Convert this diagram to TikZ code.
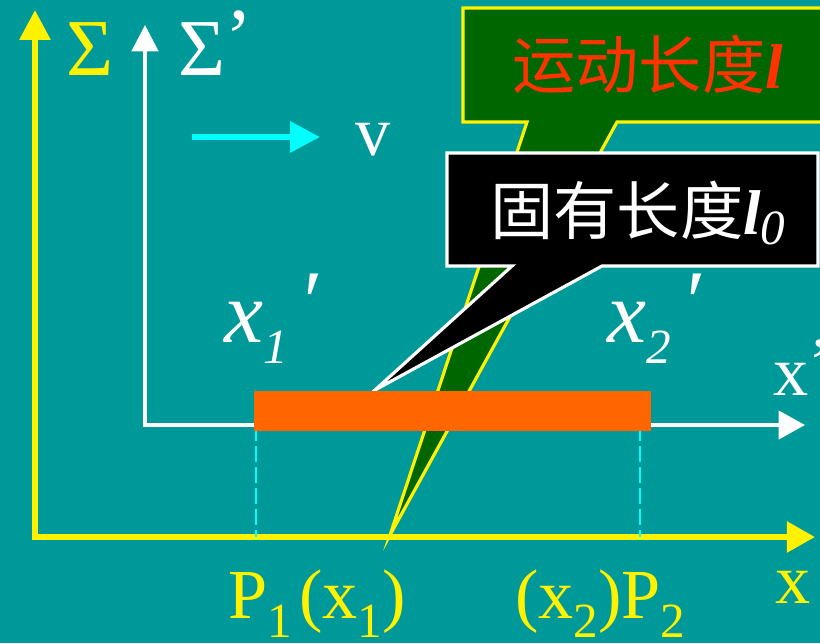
\documentclass[tikz,border=0pt]{standalone}
\usepackage{fontspec}
\setmainfont{Liberation Serif}
\newfontfamily\cjk{Noto Sans CJK SC}
\usepackage{tikz}
\usetikzlibrary{calc, positioning, arrows.meta}
\definecolor{slidebg}{RGB}{0,153,153}
\definecolor{rodorange}{RGB}{255,102,0}
\definecolor{boxgreen}{RGB}{0,102,0}
\definecolor{labelred}{RGB}{255,51,0}
\definecolor{vcyan}{RGB}{0,255,255}
\newcommand{\labfont}{\fontsize{40}{44}\selectfont}
\newcommand{\sigfont}{\fontsize{46}{50}\selectfont}
\newcommand{\subfont}{\fontsize{28}{30}\selectfont}
\newcommand{\cjkfont}{\fontsize{36}{40}\selectfont}
\newcommand{\lowsub}[1]{\raisebox{-11pt}{\subfont #1}}

\begin{document}
\begin{tikzpicture}[x=0.02cm, y=-0.02cm,
    lab/.style={anchor=base west, inner sep=0pt, font=\labfont},
    yaxis/.style={yellow, line width=3.4pt, {Triangle[length=17pt,width=17pt]}-{Triangle[length=16pt,width=17pt]}},
    waxis/.style={white, line width=2.2pt, {Triangle[length=15pt,width=15pt]}-{Triangle[length=15pt,width=16pt]}},
    callout/.style={line width=1.8pt, line join=miter, miter limit=40}]
  % background and frame
  \useasboundingbox[fill=slidebg] (0,0) rectangle (820,643);

  % frame S (yellow)
  \coordinate (S) at (35,537);
  \coordinate (Sy) at (35,10);
  \coordinate (Sx) at (815,537);
  \draw[yaxis] (Sy) -- (S) -- (Sx);
  \node[lab, yellow, font=\sigfont] (sig) at (66,75) {Σ};

  % frame S' (white)
  \coordinate (Sp) at (145,425);
  \coordinate (Spy) at (145,25);
  \coordinate (Spx) at (805,425);
  \draw[waxis] (Spy) -- (Sp) -- (Spx);
  \node[lab, white, font=\sigfont] (sigp) at (178,75) {Σ\raisebox{6pt}{’}};

  % velocity
  \coordinate (va) at (192,137);
  \coordinate (vb) at (320,137);
  \draw[vcyan, line width=3.6pt, -{Triangle[length=17pt,width=17pt]}] (va) -- (vb);
  \node[lab, white] (vel) at (355,155) {v};

  % callout: moving length
  \coordinate (tipl) at (390,535);
  \filldraw[callout, draw=yellow, fill=boxgreen]
    (463,8) -- (840,8) -- (840,122) -- (617,122) -- (tipl) -- (527,122) -- (463,122) -- cycle;
  \node[anchor=base west, inner sep=0pt, font=\cjkfont, labelred] (lmove) at (512,88)
    {{\cjk 运动长度}{\bfseries\itshape l}};

  % callout: proper length
  \coordinate (tipz) at (375,390);
  \filldraw[callout, draw=white, fill=black]
    (447,153) -- (818,153) -- (818,266) -- (602,266) -- (tipz) -- (512,266) -- (447,266) -- cycle;
  \node[anchor=base west, inner sep=0pt, font=\cjkfont, white] (lzero) at (490,234)
    {{\cjk 固有长度}{\bfseries\itshape l}\raisebox{-6pt}{\subfont\itshape 0}};

  % dashed projections
  \coordinate (p1) at (256,425);
  \coordinate (p2) at (640,425);
  \draw[vcyan, line width=0.9pt, dash pattern=on 9pt off 3pt] (p1) -- (p1 |- S);
  \draw[vcyan, line width=0.9pt, dash pattern=on 9pt off 3pt] (p2) -- (p2 |- S);

  % the rod
  \fill[rodorange] (254,391) rectangle (651,431);

  % primed coordinates
  \node[lab, white, font=\fontsize{50}{54}\selectfont\itshape] (x1p) at (224,342)
    {x\raisebox{-12pt}{\subfont 1}\hspace{6pt}\raisebox{6pt}{′}};
  \node[lab, white, font=\fontsize{50}{54}\selectfont\itshape] (x2p) at (607,342)
    {x\raisebox{-12pt}{\subfont 2}\hspace{6pt}\raisebox{6pt}{′}};
  \node[lab, white] (xp) at (773,395) {x\raisebox{5pt}{’}};

  % points on the x axis
  \node[lab, yellow] (P1) at (228,618) {P\lowsub{1}\hspace{4pt}(x\lowsub{1})};
  \node[lab, yellow] (P2) at (515,618) {(x\lowsub{2})P\lowsub{2}};
  \node[lab, yellow] (xs) at (775,603) {x};
\end{tikzpicture}
\end{document}
